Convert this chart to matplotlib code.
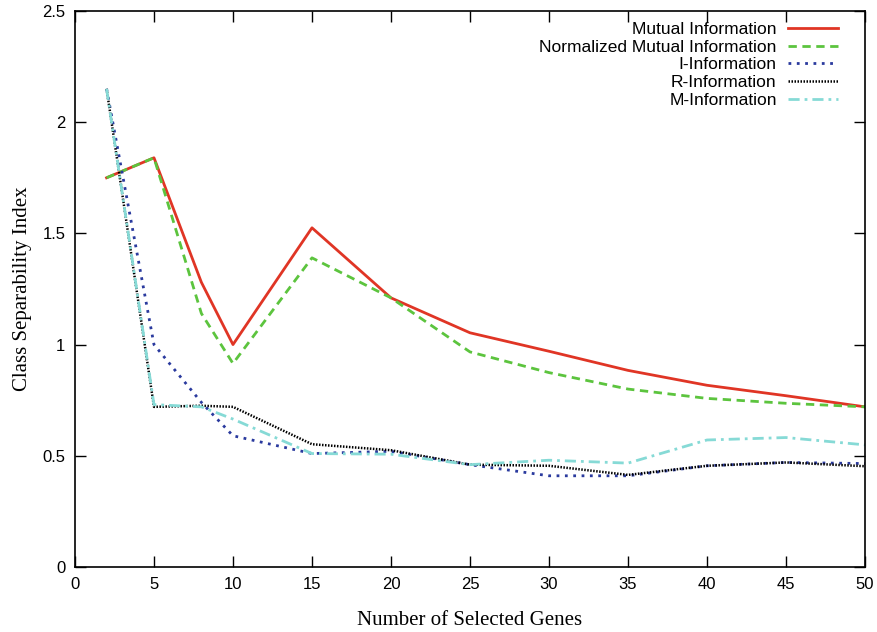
import matplotlib
matplotlib.use('Agg')
import matplotlib.pyplot as plt

# Number of selected genes
genes = [2, 5, 8, 10, 15, 20, 25, 30, 35, 40, 45, 50]

# Class separability index per criterion
mutual_info = [1.75, 1.84, 1.28, 1.00, 1.525, 1.21, 1.053, 0.97, 0.884, 0.817, 0.77, 0.72]
norm_mutual_info = [1.75, 1.84, 1.14, 0.915, 1.39, 1.21, 0.967, 0.874, 0.80, 0.758, 0.736, 0.72]
i_info = [2.15, 1.00, 0.74, 0.59, 0.51, 0.52, 0.46, 0.41, 0.41, 0.455, 0.47, 0.465]
r_info = [2.15, 0.72, 0.725, 0.72, 0.552, 0.525, 0.46, 0.455, 0.414, 0.455, 0.47, 0.453]
m_info = [2.15, 0.73, 0.72, 0.665, 0.51, 0.507, 0.46, 0.48, 0.467, 0.571, 0.582, 0.549]

xticks = [0, 5, 10, 15, 20, 25, 30, 35, 40, 45, 50]
yticks = [0, 0.5, 1, 1.5, 2, 2.5]
ytick_labels = ['0', '0.5', '1', '1.5', '2', '2.5']

fig = plt.figure(figsize=(8.77, 6.32), dpi=100)
ax = fig.add_axes([0.0855, 0.1029, 0.9008, 0.8797])

ax.plot(genes, mutual_info, color='#e03525', lw=2.0, ls='-', label='Mutual Information')
ax.plot(genes, norm_mutual_info, color='#5cc43e', lw=2.0, ls=(0, (3, 2)), label='Normalized Mutual Information')
ax.plot(genes, i_info, color='#2a3a9e', lw=2.0, ls=(0, (1, 2)), label='I-Information')
ax.plot(genes, r_info, color='black', lw=1.8, ls=(0, (0.6, 0.6)), label='R-Information')
ax.plot(genes, m_info, color='#86dad6', lw=2.0, ls=(0, (4, 1.8, 1, 1.8)), label='M-Information')

ax.set_xlim(0, 50)
ax.set_ylim(0, 2.5)
ax.set_xticks(xticks)
ax.set_yticks(yticks)
ax.set_yticklabels(ytick_labels)
ax.tick_params(direction='in', length=8, width=1, top=True, right=True,
               labelsize=12, pad=7)
for lab in ax.get_xticklabels() + ax.get_yticklabels():
    lab.set_family(['Liberation Sans', 'DejaVu Sans'])
for s in ax.spines.values():
    s.set_linewidth(1.2)

ax.set_xlabel('Number of Selected Genes', family='Liberation Serif', fontsize=15, labelpad=14)
ax.set_ylabel('Class Separability Index', family='Liberation Serif', fontsize=15, labelpad=7)

leg = ax.legend(loc='upper right', frameon=False, markerfirst=False,
                prop={'family': 'Liberation Sans', 'size': 12.5},
                handlelength=2.9, handletextpad=0.65, labelspacing=0.15,
                borderaxespad=0.0, bbox_to_anchor=(0.975, 0.993))

fig.savefig('out.png', dpi=100)
